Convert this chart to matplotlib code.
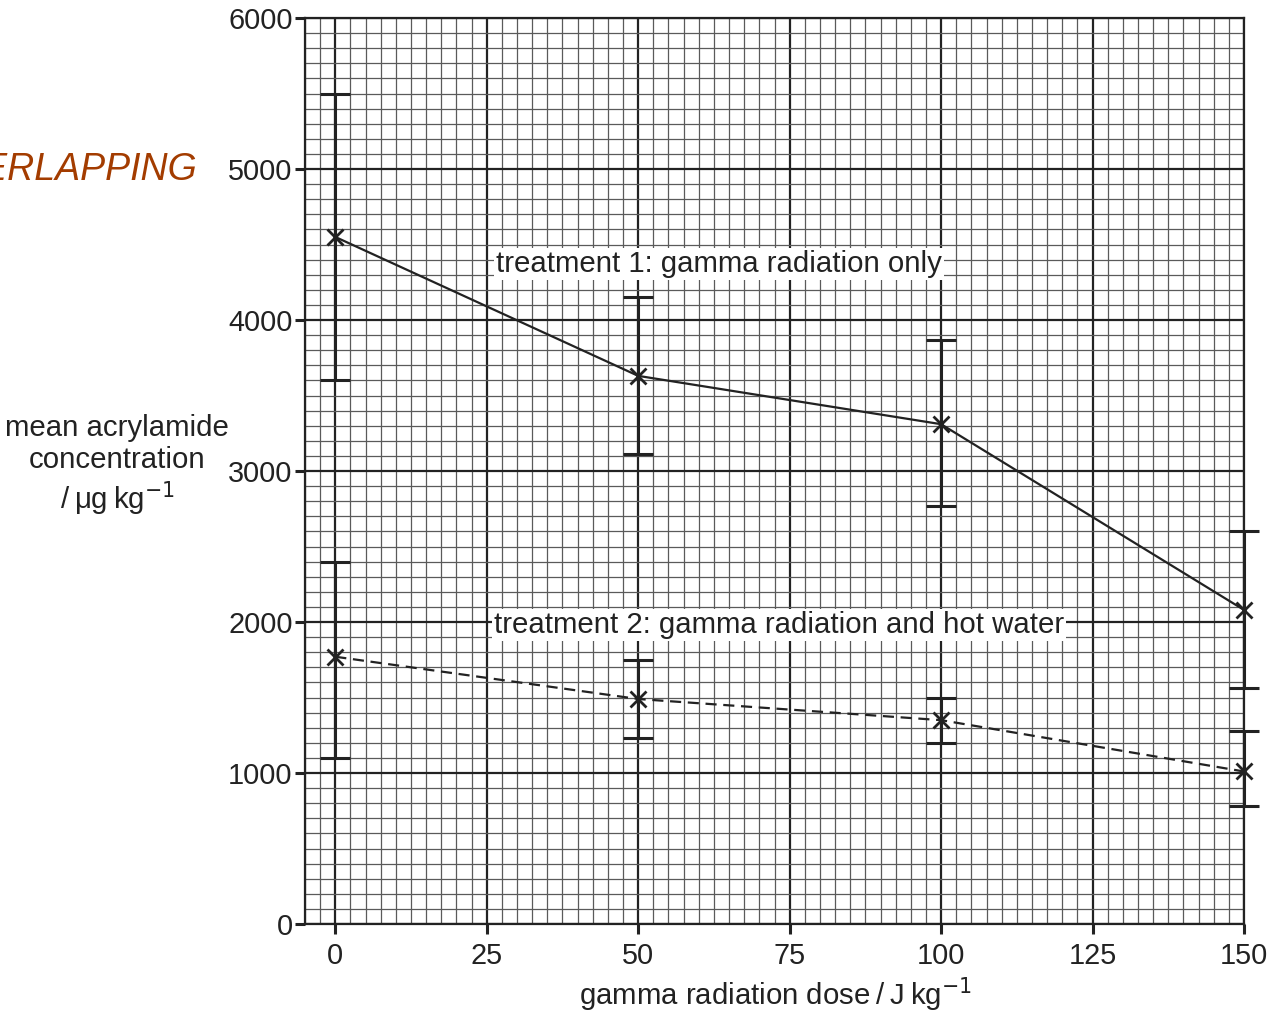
import matplotlib
matplotlib.use("Agg")
import matplotlib.pyplot as plt
from matplotlib.ticker import MultipleLocator

plt.rcParams["font.family"] = ["Liberation Sans", "DejaVu Sans"]

# data
dose = [0, 50, 100, 150]

t1_mean = [4550, 3630, 3310, 2080]
t1_low = [3600, 3110, 2770, 1560]
t1_high = [5500, 4150, 3870, 2600]

t2_mean = [1770, 1490, 1350, 1010]
t2_low = [1100, 1230, 1200, 780]
t2_high = [2400, 1750, 1500, 1280]

x_ticks = [0, 25, 50, 75, 100, 125, 150]
y_ticks = [0, 1000, 2000, 3000, 4000, 5000, 6000]

ink = "#222222"
fs = 21.2

fig = plt.figure(figsize=(12.78, 10.14), dpi=100)
ax = fig.add_axes([305 / 1278, 1 - 924 / 1014, (1244 - 305) / 1278, (924 - 18) / 1014])

ax.set_xlim(-5, 150)
ax.set_ylim(0, 6000)
ax.set_xticks(x_ticks)
ax.set_yticks(y_ticks)
ax.xaxis.set_minor_locator(MultipleLocator(2.5))
ax.yaxis.set_minor_locator(MultipleLocator(100))

# graph paper grid
ax.grid(which="minor", color="#5a5a5a", linewidth=0.9)
ax.grid(which="major", color=ink, linewidth=1.6)
ax.set_axisbelow(True)

for s in ax.spines.values():
    s.set_color(ink)
    s.set_linewidth(1.6)

ax.tick_params(which="minor", length=0)
ax.tick_params(which="major", length=7, width=2.2, color=ink,
               labelsize=20.8, labelcolor=ink, pad=2)
ax.tick_params(axis="x", pad=6)


def draw_series(mean, low, high, style):
    yerr = [[m - l for m, l in zip(mean, low)], [h - m for m, h in zip(mean, high)]]
    bars = ax.errorbar(dose, mean, yerr=yerr, fmt="none", ecolor=ink,
                       elinewidth=2.2, capsize=11, capthick=2.2, zorder=3)
    for part in bars.lines[1] + bars.lines[2]:
        part.set_clip_on(False)
    ax.plot(dose, mean, linestyle=style, color=ink, linewidth=1.6,
            marker="x", markersize=11, markeredgewidth=2, zorder=4,
            clip_on=False)


draw_series(t1_mean, t1_low, t1_high, "-")
draw_series(t2_mean, t2_low, t2_high, (0, (5, 3)))

box = dict(facecolor="white", edgecolor="none", pad=1.5)
ax.text(63.3, 4370, "treatment 1: gamma radiation only", fontsize=fs,
        color=ink, ha="center", va="center", bbox=box, zorder=5)
ax.text(73.3, 1980, "treatment 2: gamma radiation and hot water", fontsize=fs,
        color=ink, ha="center", va="center", bbox=box, zorder=5)

fig.text(117 / 1278, 1 - 466 / 1014,
         "mean acrylamide\nconcentration\n/\u2009\u03bcg\u2009kg$^{\u22121}$",
         fontsize=fs, color=ink, ha="center", va="center", linespacing=1.2)
fig.text(775 / 1278, 1 - 995 / 1014,
         "gamma radiation dose\u2009/\u2009J\u2009kg$^{\u22121}$",
         fontsize=fs, color=ink, ha="center", va="center")

# handwritten note at the left edge, cut off by the page as in the scan
fig.text(198 / 1278, 1 - 170 / 1014, "OVERLAPPING", fontsize=27,
         color="#a33c00", ha="right", va="center", style="italic")

fig.savefig("out.png", dpi=100)
